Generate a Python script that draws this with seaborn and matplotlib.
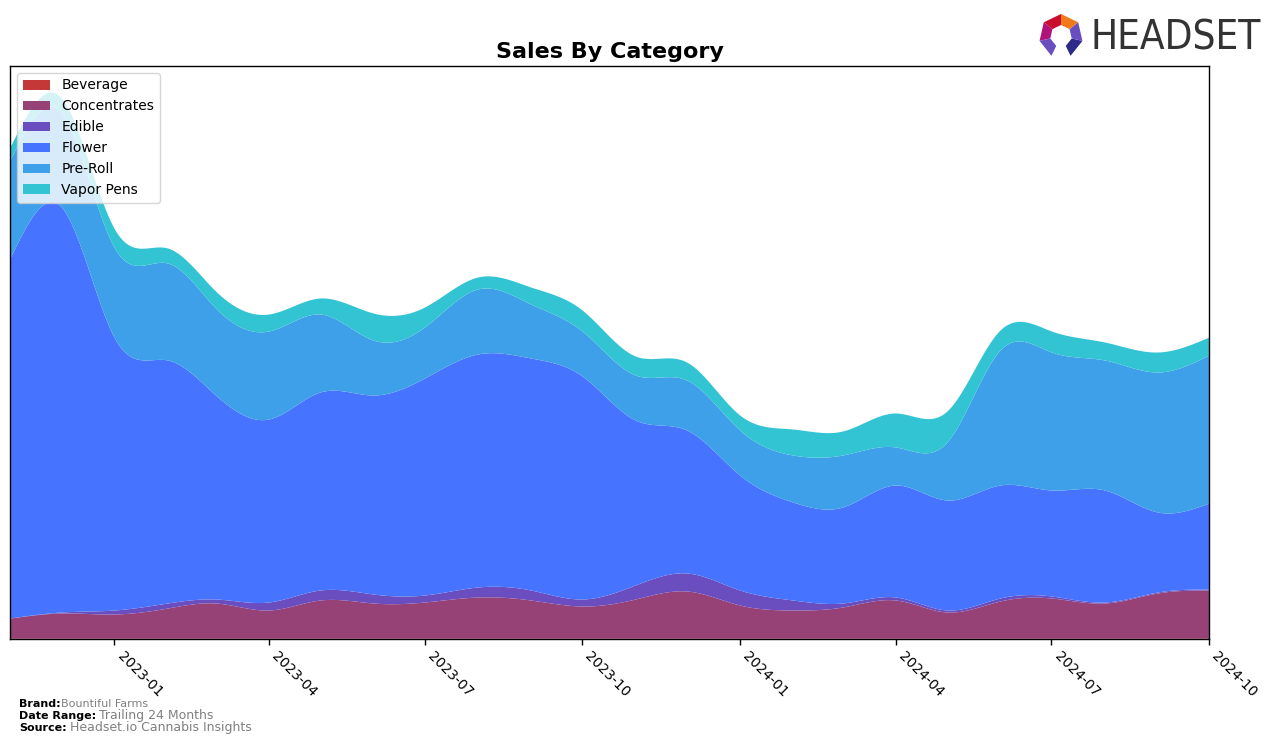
import numpy as np
import pandas as pd
import matplotlib
matplotlib.use("Agg")
import matplotlib.pyplot as plt
import matplotlib.dates as mdates
from matplotlib.patches import Polygon
import seaborn as sns

sns.set_style("white")
plt.rcParams['font.family'] = ['DejaVu Sans']
plt.rcParams['text.color'] = 'black'
plt.rcParams['axes.labelcolor'] = 'black'
plt.rcParams['xtick.color'] = 'black'
plt.rcParams['ytick.color'] = 'black'

months = pd.date_range("2022-11-01", "2024-10-01", freq="MS")
categories = ["Beverage", "Concentrates", "Edible", "Flower", "Pre-Roll", "Vapor Pens"]
beverage = [1, 1, 1, 1, 1, 1, 1, 1, 1, 1, 1, 1, 1, 1, 1, 1, 1, 1, 1, 1, 1, 1, 1, 1]
concentrates = [20, 25, 24, 30, 35, 28, 38, 35, 36, 41, 38, 32, 39, 47, 33, 28, 31, 38, 26, 37, 40, 35, 45, 48]
edible = [0, 1, 4, 5, 4, 8, 10, 9, 7, 10, 10, 7, 14, 18, 15, 10, 4, 3, 2, 3, 2, 1, 1, 1]
flower = [360, 405, 272, 243, 204, 183, 198, 199, 217, 233, 232, 223, 165, 143, 115, 98, 96, 112, 110, 113, 106, 112, 80, 86]
preroll = [98, 94, 90, 97, 87, 88, 78, 55, 51, 65, 54, 45, 45, 50, 45, 47, 52, 38, 58, 135, 138, 130, 140, 148]
vapor = [13, 15, 19, 15, 17, 17, 16, 27, 20, 12, 17, 21, 19, 18, 15, 26, 24, 34, 31, 20, 21, 18, 20, 18]
colors = ["#c43838", "#974277", "#6a4dbe", "#4673ff", "#3ea0e8", "#33c4d4"]
series = [beverage, concentrates, edible, flower, preroll, vapor]


def natural_spline(x, y, xs):
    x = np.asarray(x, float); y = np.asarray(y, float)
    n = len(x)
    h = np.diff(x)
    A = np.zeros((n, n)); b = np.zeros(n)
    A[0, 0] = 1; A[-1, -1] = 1
    for i in range(1, n - 1):
        A[i, i - 1] = h[i - 1]
        A[i, i] = 2 * (h[i - 1] + h[i])
        A[i, i + 1] = h[i]
        b[i] = 3 * ((y[i + 1] - y[i]) / h[i] - (y[i] - y[i - 1]) / h[i - 1])
    c = np.linalg.solve(A, b)
    bb = np.zeros(n - 1); d = np.zeros(n - 1)
    for i in range(n - 1):
        bb[i] = (y[i + 1] - y[i]) / h[i] - h[i] * (2 * c[i] + c[i + 1]) / 3
        d[i] = (c[i + 1] - c[i]) / (3 * h[i])
    idx = np.clip(np.searchsorted(x, xs) - 1, 0, n - 2)
    dx = xs - x[idx]
    return y[idx] + bb[idx] * dx + c[idx] * dx ** 2 + d[idx] * dx ** 3


xnum = mdates.date2num(months)
xs = np.linspace(xnum[0], xnum[-1], 800)
smooth = [np.clip(natural_spline(xnum, s, xs), 0, None) for s in series]
xd = mdates.num2date(xs)

fig = plt.figure(figsize=(12.76, 7.45), dpi=100)
ax = fig.add_axes([10 / 1276, 1 - 639 / 745, (1209 - 10) / 1276, (639 - 66) / 745])
ax.stackplot(xd, *smooth, colors=colors, labels=categories, linewidth=0)
ax.set_xlim(months[0], months[-1])
ax.set_ylim(0, 573)
ax.set_yticks([])
for sp in ax.spines.values():
    sp.set_visible(True)
    sp.set_color("black")
    sp.set_linewidth(1)
ticks = pd.date_range("2023-01-01", "2024-10-01", freq="3MS")
ax.set_xticks(ticks)
ax.set_xticklabels([t.strftime("%Y-%m") for t in ticks], rotation=-45, ha="left", fontsize=10)
ax.tick_params(axis="x", bottom=True, length=4, width=1, color="black", labelcolor="black")
ax.set_title("Sales By Category", fontsize=16, fontweight="bold", pad=6, color="black")
leg = ax.legend(loc="upper left", fontsize=10, frameon=True, handlelength=2, borderaxespad=0.5)
for t in leg.get_texts():
    t.set_color("black")

# footer
fig.text(19 / 1276, 1 - 704 / 745, "Brand:", fontsize=8, fontweight="bold", va="center")
fig.text(61 / 1276, 1 - 704 / 745, "Bountiful Farms", fontsize=8, color="gray", va="center")
fig.text(19 / 1276, 1 - 716 / 745, "Date Range:", fontsize=8, fontweight="bold", va="center")
fig.text(99 / 1276, 1 - 716 / 745, "Trailing 24 Months", fontsize=9, color="gray", va="center")
fig.text(19 / 1276, 1 - 728 / 745, "Source:", fontsize=8, fontweight="bold", va="center")
fig.text(70 / 1276, 1 - 728 / 745, "Headset.io Cannabis Insights", fontsize=9, color="gray", va="center")

# logo
fig.text(1091 / 1276, 1 - 39 / 745, "HEADSET", fontsize=29, color="#333333",
         va="center", ha="left", fontstretch="condensed")
cx, cy, r_out, r_in = 1061, 36, 22, 11
angles = np.deg2rad(np.arange(90, 90 + 360, 360 / 7))
pts_o = [(cx + r_out * np.cos(a), cy - r_out * np.sin(a)) for a in angles]
pts_i = [(cx + r_in * np.cos(a), cy - r_in * np.sin(a)) for a in angles]
segcols = ["#c8102e", "#b0127a", "#6a4dbe", "#2e2a8a", "#2e2a8a", "#6a4dbe", "#f07a1a"]
for i in range(7):
    if i == 3:
        continue
    j = (i + 1) % 7
    quad = [pts_o[i], pts_o[j], pts_i[j], pts_i[i]]
    quad = [(px / 1276, 1 - py / 745) for px, py in quad]
    fig.patches.append(Polygon(quad, closed=True, transform=fig.transFigure,
                               facecolor=segcols[i], edgecolor="none"))

fig.savefig("out.png", dpi=100)
